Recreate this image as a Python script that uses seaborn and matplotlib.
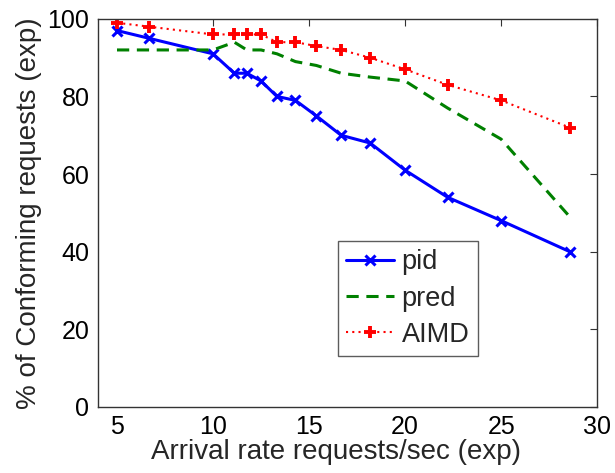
import matplotlib
matplotlib.use("Agg")
import matplotlib.pyplot as plt
import seaborn as sns
import pandas as pd

# Arrival rates (requests/sec) at which each controller was measured
arrival_rate = [5.0, 6.67, 10.0, 11.11, 11.76, 12.5, 13.33, 14.29,
                15.38, 16.67, 18.18, 20.0, 22.22, 25.0, 28.57]

# Percentage of conforming requests per controller
pid = [97, 95, 91, 86, 86, 84, 80, 79, 75, 70, 68, 61, 54, 48, 40]
pred = [92, 92, 92, 94, 92, 92, 91, 89, 88, 86, 85, 84, 77, 69, 49]
aimd = [99, 98, 96, 96, 96, 96, 94, 94, 93, 92, 90, 87, 83, 79, 72]

x_ticks = [5, 10, 15, 20, 25, 30]
y_ticks = [0, 20, 40, 60, 80, 100]

sns.set_style("white")
plt.rcParams["font.family"] = ["Liberation Sans", "DejaVu Sans"]

df = pd.DataFrame({"rate": arrival_rate, "pid": pid, "pred": pred, "AIMD": aimd})

fig = plt.figure(figsize=(6.15, 4.73), dpi=100)
ax = fig.add_axes([0.159, 0.140, 0.812, 0.820])

sns.lineplot(data=df, x="rate", y="pid", ax=ax, color="#0000ff",
             linestyle="-", linewidth=2.2, marker="x", markersize=7,
             markeredgewidth=2.2, markeredgecolor="#0000ff", label="pid")
sns.lineplot(data=df, x="rate", y="pred", ax=ax, color="#008000",
             linestyle=(0, (4, 2.5)), linewidth=2.2, label="pred")
sns.lineplot(data=df, x="rate", y="AIMD", ax=ax, color="#ff0000",
             linestyle=(0, (1, 2)), linewidth=1.5, marker="+", markersize=9,
             markeredgewidth=2.8, markeredgecolor="#ff0000", label="AIMD")

ax.set_xlim(4, 30)
ax.set_ylim(0, 100)
ax.set_xticks(x_ticks)
ax.set_yticks(y_ticks)
ax.set_xticklabels([str(t) for t in x_ticks])
ax.set_yticklabels([str(t) for t in y_ticks])

ax.tick_params(axis="both", which="both", direction="in", length=5,
               width=0.8, colors="#333333", labelcolor="black",
               labelsize=18, top=True, right=True, pad=6)
for s in ax.spines.values():
    s.set_color("#333333")
    s.set_linewidth(1.0)
    s.set_visible(True)

ax.set_xlabel("Arrival rate requests/sec (exp)", fontsize=20, labelpad=0)
ax.xaxis.label.set_x(0.477)
ax.set_ylabel("% of Conforming requests (exp)", fontsize=20, labelpad=4)

leg = ax.legend(loc="lower left", bbox_to_anchor=(0.481, 0.131),
                fontsize=19.5, frameon=True, fancybox=False,
                handlelength=1.75, handletextpad=0.3, borderpad=0.3,
                labelspacing=0.38, borderaxespad=0)
leg.get_frame().set_edgecolor("#333333")
leg.get_frame().set_linewidth(1.0)

fig.savefig("out.png", dpi=100)
